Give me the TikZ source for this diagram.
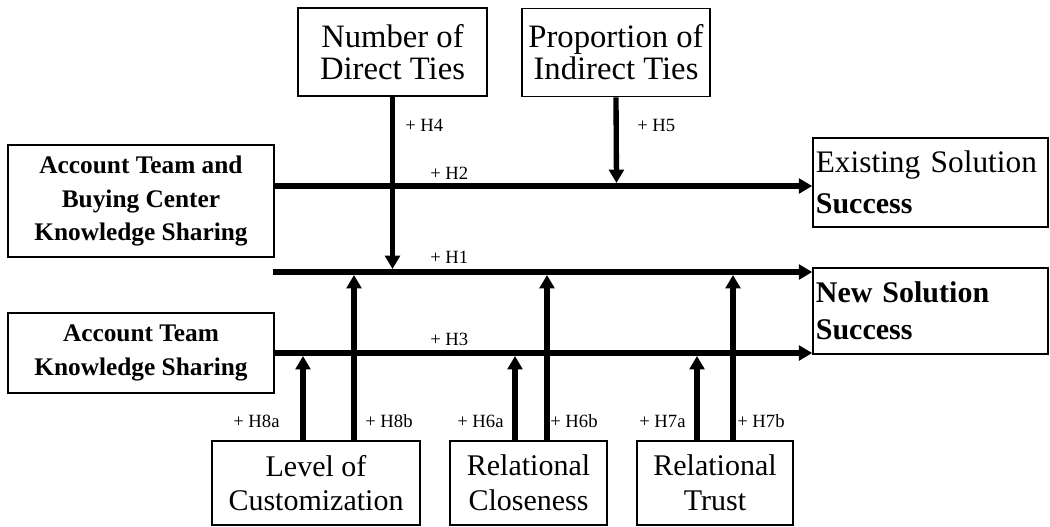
\documentclass[tikz,border=0pt]{standalone}
\usepackage{fontspec}
\setmainfont{Liberation Serif}
\usetikzlibrary{arrows.meta}
\begin{document}
\begin{tikzpicture}[x=0.75pt,y=-0.75pt,
  box/.style={draw, line width=1.4pt, inner sep=0pt, align=center},
  leftbox/.style={box, font=\bfseries\fontsize{19pt}{25pt}\selectfont, minimum width=199.5pt},
  topbox/.style={box, font=\fontsize{24.5pt}{24pt}\selectfont, minimum width=141.5pt, minimum height=66pt},
  outbox/.style={draw, line width=1.4pt, inner xsep=2pt, inner ysep=0pt, align=left, text width=172pt, minimum height=66pt},
  botbox/.style={box, font=\fontsize{22.5pt}{26pt}\selectfont, minimum height=63pt},
  arr/.style={line width=4pt, -{Triangle[length=10pt,width=11pt]}},
  varr/.style={line width=3.6pt, -{Triangle[length=10pt,width=11pt]}},
  lab/.style={font=\fontsize{14pt}{16pt}\selectfont, anchor=base west, inner sep=0pt}
]
\useasboundingbox (0,0) rectangle (1050,526);

% boxes
\node[leftbox, minimum height=84pt] (A) at (141,201) {Account Team and\\Buying Center\\Knowledge Sharing};
\node[leftbox, minimum height=60pt] (B) at (141,353) {Account Team\\Knowledge Sharing};
\node[topbox] (Num) at (392.5,52) {Number of\\Direct Ties};
\node[topbox] (Pro) at (616,52.5) {Proportion of\\Indirect Ties};
\node[outbox, minimum height=66.75pt, font=\fontsize{23.5pt}{31pt}\selectfont] (E) at (930.5,182.5) {Existing Solution\\\textbf{\fontsize{22.5pt}{31pt}\selectfont Success}};
\node[outbox, minimum height=64.5pt, font=\bfseries\fontsize{22.5pt}{28pt}\selectfont] (N) at (930.5,311) {New Solution\\Success};
\node[botbox, minimum width=156pt] (Lev) at (316,483) {Level of\\Customization};
\node[botbox, minimum width=117.75pt] (Clo) at (528.5,483) {Relational\\Closeness};
\node[botbox, minimum width=117pt] (Tru) at (715,483) {Relational\\Trust};

% line levels and free ends
\coordinate (l2) at (0,186);
\coordinate (l1) at (0,272);
\coordinate (l3) at (0,353);
\coordinate (h1s) at (273,272);
\coordinate (h4e) at (392.5,269);
\coordinate (h5e) at (616.5,183);
\coordinate (h8a) at (303,356);
\coordinate (h8b) at (354,275);
\coordinate (h6a) at (515,356);
\coordinate (h6b) at (547,275);
\coordinate (h7a) at (697,356);
\coordinate (h7b) at (733,275);

% main paths
\draw[arr] (A.east |- l2) -- (E.west |- l2);
\draw[arr] (h1s) -- (N.west |- l1);
\draw[arr] (B.east |- l3) -- (N.west |- l3);

% moderators from above
\draw[varr] (Num.south) -- (h4e);
\draw[arr] (Pro.south) -- (h5e);

% moderators from below
\draw[arr] (h8a |- Lev.north) -- (h8a);
\draw[arr] (h8b |- Lev.north) -- (h8b);
\draw[arr] (h6a |- Clo.north) -- (h6a);
\draw[arr] (h6b |- Clo.north) -- (h6b);
\draw[arr] (h7a |- Tru.north) -- (h7a);
\draw[arr] (h7b |- Tru.north) -- (h7b);

% labels
\node[lab] (t4) at (405,131) {+ H4};
\node[lab] (t5) at (637,131) {+ H5};
\node[lab] (t2) at (430,179) {+ H2};
\node[lab] (t1) at (430,263) {+ H1};
\node[lab] (t3) at (430,345) {+ H3};
\node[lab] (t8a) at (233,427) {+ H8a};
\node[lab] (t8b) at (365,427) {+ H8b};
\node[lab] (t6a) at (457,427) {+ H6a};
\node[lab] (t6b) at (550,427) {+ H6b};
\node[lab] (t7a) at (639,427) {+ H7a};
\node[lab] (t7b) at (737,427) {+ H7b};
\end{tikzpicture}
\end{document}
